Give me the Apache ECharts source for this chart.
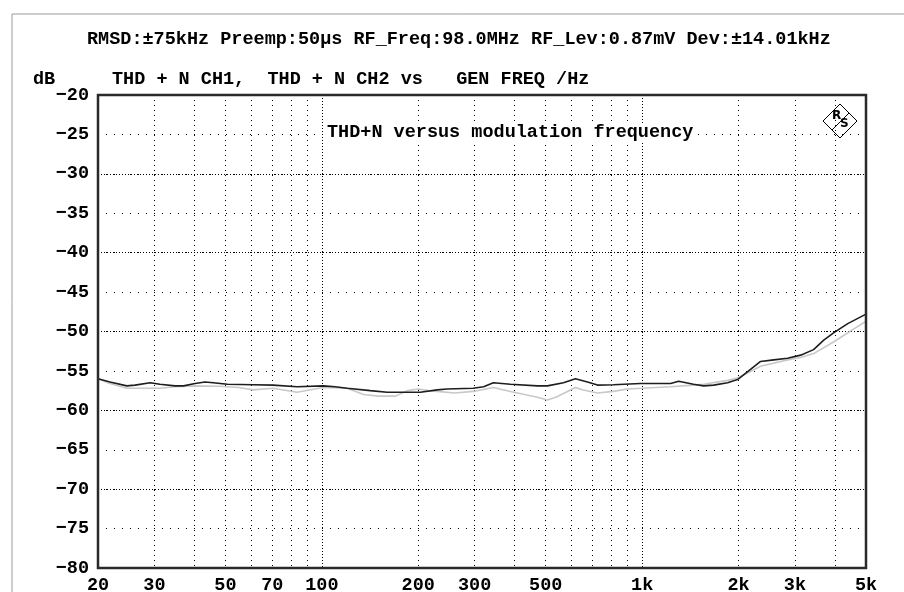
<!DOCTYPE html>
<html><head><meta charset="utf-8">
<script src="https://cdn.jsdelivr.net/npm/echarts@6/dist/echarts.min.js"></script>
<style>html,body{margin:0;padding:0;background:#fff}#c{width:904px;height:592px}</style>
</head><body><div id="c"></div>
<script>
// CH1 (dark curve)
const freqCh1 = [20,21.8,24.6,26.1,29.1,31.2,34.8,37,40.2,43.2,45.8,50.7,61,70.4,83.7,101,110,120,141.6,160,185,203,229,246,297,320,343,388,471,506,568,619,675,725,813,988,1227,1300,1446,1556,1672,1849,1986,2136,2343,2575,2845,3126,3430,3690,3970,4385,5000];
const dbCh1 = [-56.0,-56.4,-56.9,-56.8,-56.5,-56.7,-56.9,-56.9,-56.6,-56.4,-56.5,-56.7,-56.75,-56.8,-57.0,-56.9,-57.0,-57.2,-57.5,-57.7,-57.7,-57.7,-57.4,-57.3,-57.2,-57.0,-56.5,-56.7,-56.9,-56.9,-56.5,-56.0,-56.4,-56.8,-56.75,-56.6,-56.6,-56.3,-56.7,-56.9,-56.8,-56.5,-56.1,-55.1,-53.8,-53.6,-53.4,-53.0,-52.3,-51.1,-50.15,-49.0,-47.8];
// CH2 (light curve)
const freqCh2 = [20,21.8,24.6,29.1,31.2,34.8,40.2,48,55,61,70.4,83.7,95,101,120,135,150,170,185,200,215,229,260,297,343,388,471,506,540,619,650,725,813,900,1000,1227,1446,1556,1849,1986,2343,2845,3126,3430,3970,4572,5000];
const dbCh2 = [-56.0,-56.6,-57.2,-57.2,-57.2,-57.0,-56.9,-56.95,-57.1,-57.4,-57.2,-57.7,-57.3,-57.1,-57.2,-58.0,-58.2,-58.2,-57.5,-57.3,-57.5,-57.6,-57.8,-57.6,-57.1,-57.6,-58.35,-58.7,-58.3,-57.1,-57.4,-57.8,-57.6,-57.3,-57.2,-57.0,-56.8,-56.7,-56.2,-55.9,-54.4,-53.6,-53.3,-52.8,-51.3,-49.7,-48.7];

const xTickValues = [20,30,50,70,100,200,300,500,1000,2000,3000,5000];
const xTickLabels = ['20','30','50','70','100','200','300','500','1k','2k','3k','5k'];
const xGridMinor = [20,30,40,50,60,70,80,90,200,300,400,500,600,700,800,900,2000,3000,4000,5000];
const xGridMajor = [100,1000];
const yMin = -80, yMax = -20, yStep = 5, yMajorStep = 10;

const headerText = 'RMSD:±75kHz Preemp:50µs RF_Freq:98.0MHz RF_Lev:0.87mV Dev:±14.01kHz';
const subHeaderText = 'THD + N CH1,  THD + N CH2 vs   GEN FREQ /Hz';
const unitText = 'dB';
const innerTitle = 'THD+N versus modulation frequency';

const FONT = 'Liberation Mono';
const txt = {fontFamily: FONT, fontWeight: 'bold', fontSize: 18.5, color: '#000'};

const chart = echarts.init(document.getElementById('c'), null, {renderer: 'canvas'});
const pairs = (f, v) => f.map((x, i) => [x, v[i]]);

chart.setOption({
  animation: false,
  backgroundColor: '#fff',
  title: [
    {text: headerText, left: 87, top: 30, padding: 0, textStyle: txt},
    {text: unitText, left: 33, top: 70, padding: 0, textStyle: txt},
    {text: subHeaderText, left: 112, top: 70, padding: 0, textStyle: txt},
    {text: innerTitle, left: 326, top: 123, padding: [0, 1, 0, 1], backgroundColor: '#fff', textStyle: txt, z: 10}
  ],
  grid: {left: 98, right: 38, top: 95, bottom: 24, containLabel: false, outerBoundsMode: 'none',
         show: true, borderColor: '#2a2a2a', borderWidth: 2.5, backgroundColor: 'transparent', z: 5},
  xAxis: [
    {type: 'log', logBase: 10, min: 20, max: 5000, position: 'bottom',
     axisLine: {show: false},
     axisTick: {show: false, customValues: xGridMinor},
     axisLabel: {show: true, customValues: xTickValues, margin: 8,
       formatter: v => { const i = xTickValues.findIndex(t => Math.abs(t - v) < 1e-6 * t); return i >= 0 ? xTickLabels[i] : ''; },
       ...txt},
     splitLine: {show: true, lineStyle: {color: '#000', width: 1, type: [1, 4]}}
    },
    {type: 'log', logBase: 10, min: 20, max: 5000, position: 'top',
     axisLine: {show: false},
     axisTick: {show: false, customValues: xGridMajor},
     axisLabel: {show: false},
     splitLine: {show: true, lineStyle: {color: '#000', width: 1, type: [1, 2]}}
    }
  ],
  yAxis: [
    {type: 'value', min: yMin, max: yMax, interval: yStep, position: 'left',
     axisLine: {show: false}, axisTick: {show: false},
     axisLabel: {margin: 9, formatter: v => (v < 0 ? '\u2212' : '') + Math.abs(v), ...txt},
     splitLine: {show: true, lineStyle: {color: '#000', width: 1, type: [1, 7]}}
    },
    {type: 'value', min: yMin, max: yMax, interval: yMajorStep, position: 'left',
     axisLine: {show: false}, axisTick: {show: false}, axisLabel: {show: false},
     splitLine: {show: true, lineStyle: {color: '#000', width: 1, type: [1, 2]}}
    }
  ],
  series: [
    {name: 'THD + N CH2', type: 'line', xAxisIndex: 0, yAxisIndex: 0, data: pairs(freqCh2, dbCh2),
     showSymbol: false, smooth: false, lineStyle: {color: '#c8c8c8', width: 1.6}, z: 3},
    {name: 'THD + N CH1', type: 'line', xAxisIndex: 0, yAxisIndex: 0, data: pairs(freqCh1, dbCh1),
     showSymbol: false, smooth: false, lineStyle: {color: '#1e1e1e', width: 1.6}, z: 4}
  ],
  graphic: [
    {type: 'rect', shape: {x: 12, y: 14, width: 1000, height: 1000}, style: {fill: 'none', stroke: '#9a9a9a', lineWidth: 1}, silent: true},
    {type: 'group', x: 840, y: 121, children: [
      {type: 'polygon', shape: {points: [[0, -17], [17, 0], [0, 17], [-17, 0]]}, style: {fill: '#fff', stroke: '#000', lineWidth: 1}},
      {type: 'text', x: -8, y: -11, style: {text: 'R', font: 'bold 12px "DejaVu Sans"', fill: '#000'}},
      {type: 'text', x: 0, y: -3, style: {text: 'S', font: 'bold 12px "DejaVu Sans"', fill: '#000'}},
      {type: 'line', shape: {x1: -8, y1: 9, x2: 9, y2: -8}, style: {stroke: '#000', lineWidth: 1}}
    ]}
  ]
});
</script></body></html>
